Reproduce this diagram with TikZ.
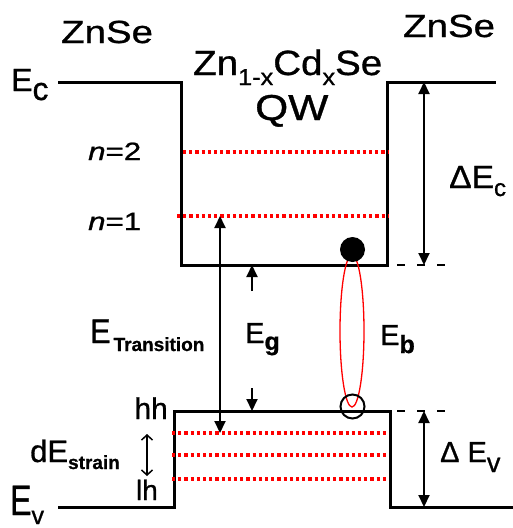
\documentclass[tikz,border=0pt]{standalone}
\usepackage{fontspec}
\setmainfont[FakeBold=0.9]{Liberation Sans}
\usetikzlibrary{arrows.meta,shapes.geometric}
\newcommand{\fsz}[1]{\fontsize{#1}{#1}\selectfont}
\begin{document}
\begin{tikzpicture}[x=1pt,y=-1pt,
  band/.style={line width=3pt, line join=miter},
  level/.style={red, line width=3.5pt, dash pattern=on 3.2pt off 3pt},
  guide/.style={line width=2.2pt, dash pattern=on 8pt off 12pt},
  dbl/.style={line width=2pt, {Triangle[length=12pt,width=11pt]}-{Triangle[length=12pt,width=11pt]}},
  sgl/.style={line width=2pt, -{Triangle[length=12pt,width=11pt]}},
  thin/.style={line width=1.5pt, {Straight Barb[length=5pt,width=11pt]}-{Straight Barb[length=5pt,width=11pt]}},
  lbl/.style={inner sep=0pt, anchor=base west},
  lblr/.style={inner sep=0pt, anchor=base east},
]
\useasboundingbox (0,0) rectangle (513,528);
% conduction band
\coordinate (cbL) at (58,82);
\coordinate (cbWL) at (181,82);
\coordinate (cbBL) at (181,265);
\coordinate (cbBR) at (387,265);
\coordinate (cbWR) at (387,82);
\coordinate (cbR) at (496,82);
\draw[band] (cbL) -- (cbWL) -- (cbBL) -- (cbBR) -- (cbWR) -- (cbR);
% valence band
\coordinate (vbL) at (58,507);
\coordinate (vbWL) at (174,507);
\coordinate (vbTL) at (174,411);
\coordinate (vbTR) at (390,411);
\coordinate (vbWR) at (390,507);
\coordinate (vbR) at (513,507);
\draw[band] (vbL) -- (vbWL) -- (vbTL) -- (vbTR) -- (vbWR) -- (vbR);
% levels
\coordinate (n2a) at (183,152); \coordinate (n2b) at (388,152);
\coordinate (n1a) at (177,216); \coordinate (n1b) at (388,216);
\coordinate (h1a) at (172,433); \coordinate (h1b) at (387,433);
\coordinate (h2a) at (172,455); \coordinate (h2b) at (387,455);
\coordinate (h3a) at (172,479); \coordinate (h3b) at (387,479);
\draw[level] (n2a) -- (n2b);
\draw[level] (n1a) -- (n1b);
\draw[level] (h1a) -- (h1b);
\draw[level] (h2a) -- (h2b);
\draw[level] (h3a) -- (h3b);
% dashed guides
\coordinate (gcA) at (397,265); \coordinate (gcB) at (446,265);
\coordinate (gvA) at (397,411); \coordinate (gvB) at (446,411);
\draw[guide] (gcA) -- (gcB);
\draw[guide] (gvA) -- (gvB);
% offset arrows
\coordinate (dEcT) at (424,82); \coordinate (dEcB) at (424,265);
\draw[dbl] (dEcT) -- (dEcB);
\coordinate (dEvT) at (424,411); \coordinate (dEvB) at (424,507);
\draw[dbl] (dEvT) -- (dEvB);
% transition arrow
\coordinate (trT) at (220,216); \coordinate (trB) at (220,433);
\draw[dbl] (trT) -- (trB);
% Eg arrows
\coordinate (egUs) at (252,291); \coordinate (egUe) at (252,265);
\coordinate (egLs) at (252,388); \coordinate (egLe) at (252,411);
\draw[sgl] (egUs) -- (egUe);
\draw[sgl] (egLs) -- (egLe);
% strain arrow
\coordinate (stT) at (147,434); \coordinate (stB) at (147,476);
\draw[thin] (stT) -- (stB);
% exciton
\node[draw=red, line width=1.3pt, ellipse, minimum width=24pt, minimum height=152pt, inner sep=0pt] (exc) at (352,331) {};
\node[fill=black, circle, minimum size=25pt, inner sep=0pt] (elec) at (352.5,249.5) {};
\node[draw=black, line width=2pt, circle, minimum size=24pt, inner sep=0pt] (hole) at (352.5,406.5) {};
% labels
\node[lbl] (znseL) at (61,43) {\fsz{32}\scalebox{1.2}[1]{ZnSe}};
\node[lbl] (znseR) at (403,37) {\fsz{32}\scalebox{1.2}[1]{ZnSe}};
\node[lbl] (ec) at (11,91) {\fsz{32}E\raisebox{-9pt}{c}};
\node[lbl] (qwmat) at (193,75) {\scalebox{1.1}[1]{\fsz{35}Zn\raisebox{-10pt}{\fsz{23}1-x}Cd\raisebox{-10pt}{\fsz{23}x}Se}};
\node[lbl] (qw) at (255,120) {\fsz{36}\scalebox{1.18}[1]{QW}};
\node[lbl] (n2) at (88,160) {\fsz{25}\scalebox{1.25}[1]{\textit{n}=2}};
\node[lbl] (n1) at (88,230) {\fsz{25}\scalebox{1.25}[1]{\textit{n}=1}};
\node[lbl] (dec) at (449,188) {\fsz{32}\scalebox{1.05}[1]{ΔE}\raisebox{-8pt}{\fsz{24}c}};
\node[lbl] (etr) at (90,343) {\fsz{34}\scalebox{0.9}[1]{E}\hspace{3pt}\raisebox{-8pt}{\fsz{19}\bfseries Transition}};
\node[lbl] (eg) at (245,343) {\fsz{29}E\raisebox{-7pt}{\fsz{25}\bfseries g}};
\node[lbl] (eb) at (380,345) {\fsz{29}E\raisebox{-8pt}{\fsz{25}\bfseries b}};
\node[lblr] (hh) at (168,419) {\fsz{30}hh};
\node[lblr] (lh) at (158,500) {\fsz{28}lh};
\node[lbl] (dstr) at (30,462) {\fsz{31}dE\raisebox{-7pt}{\fsz{19}\bfseries strain}};
\node[lbl] (dev) at (440,462) {\fsz{29}Δ\hspace{8pt}E\raisebox{-10pt}{\fsz{27}v}};
\node[lbl] (ev) at (10,515) {\scalebox{1}[1.33]{\fsz{32}E}\raisebox{-9pt}{\fsz{25}v}};
\end{tikzpicture}
\end{document}
